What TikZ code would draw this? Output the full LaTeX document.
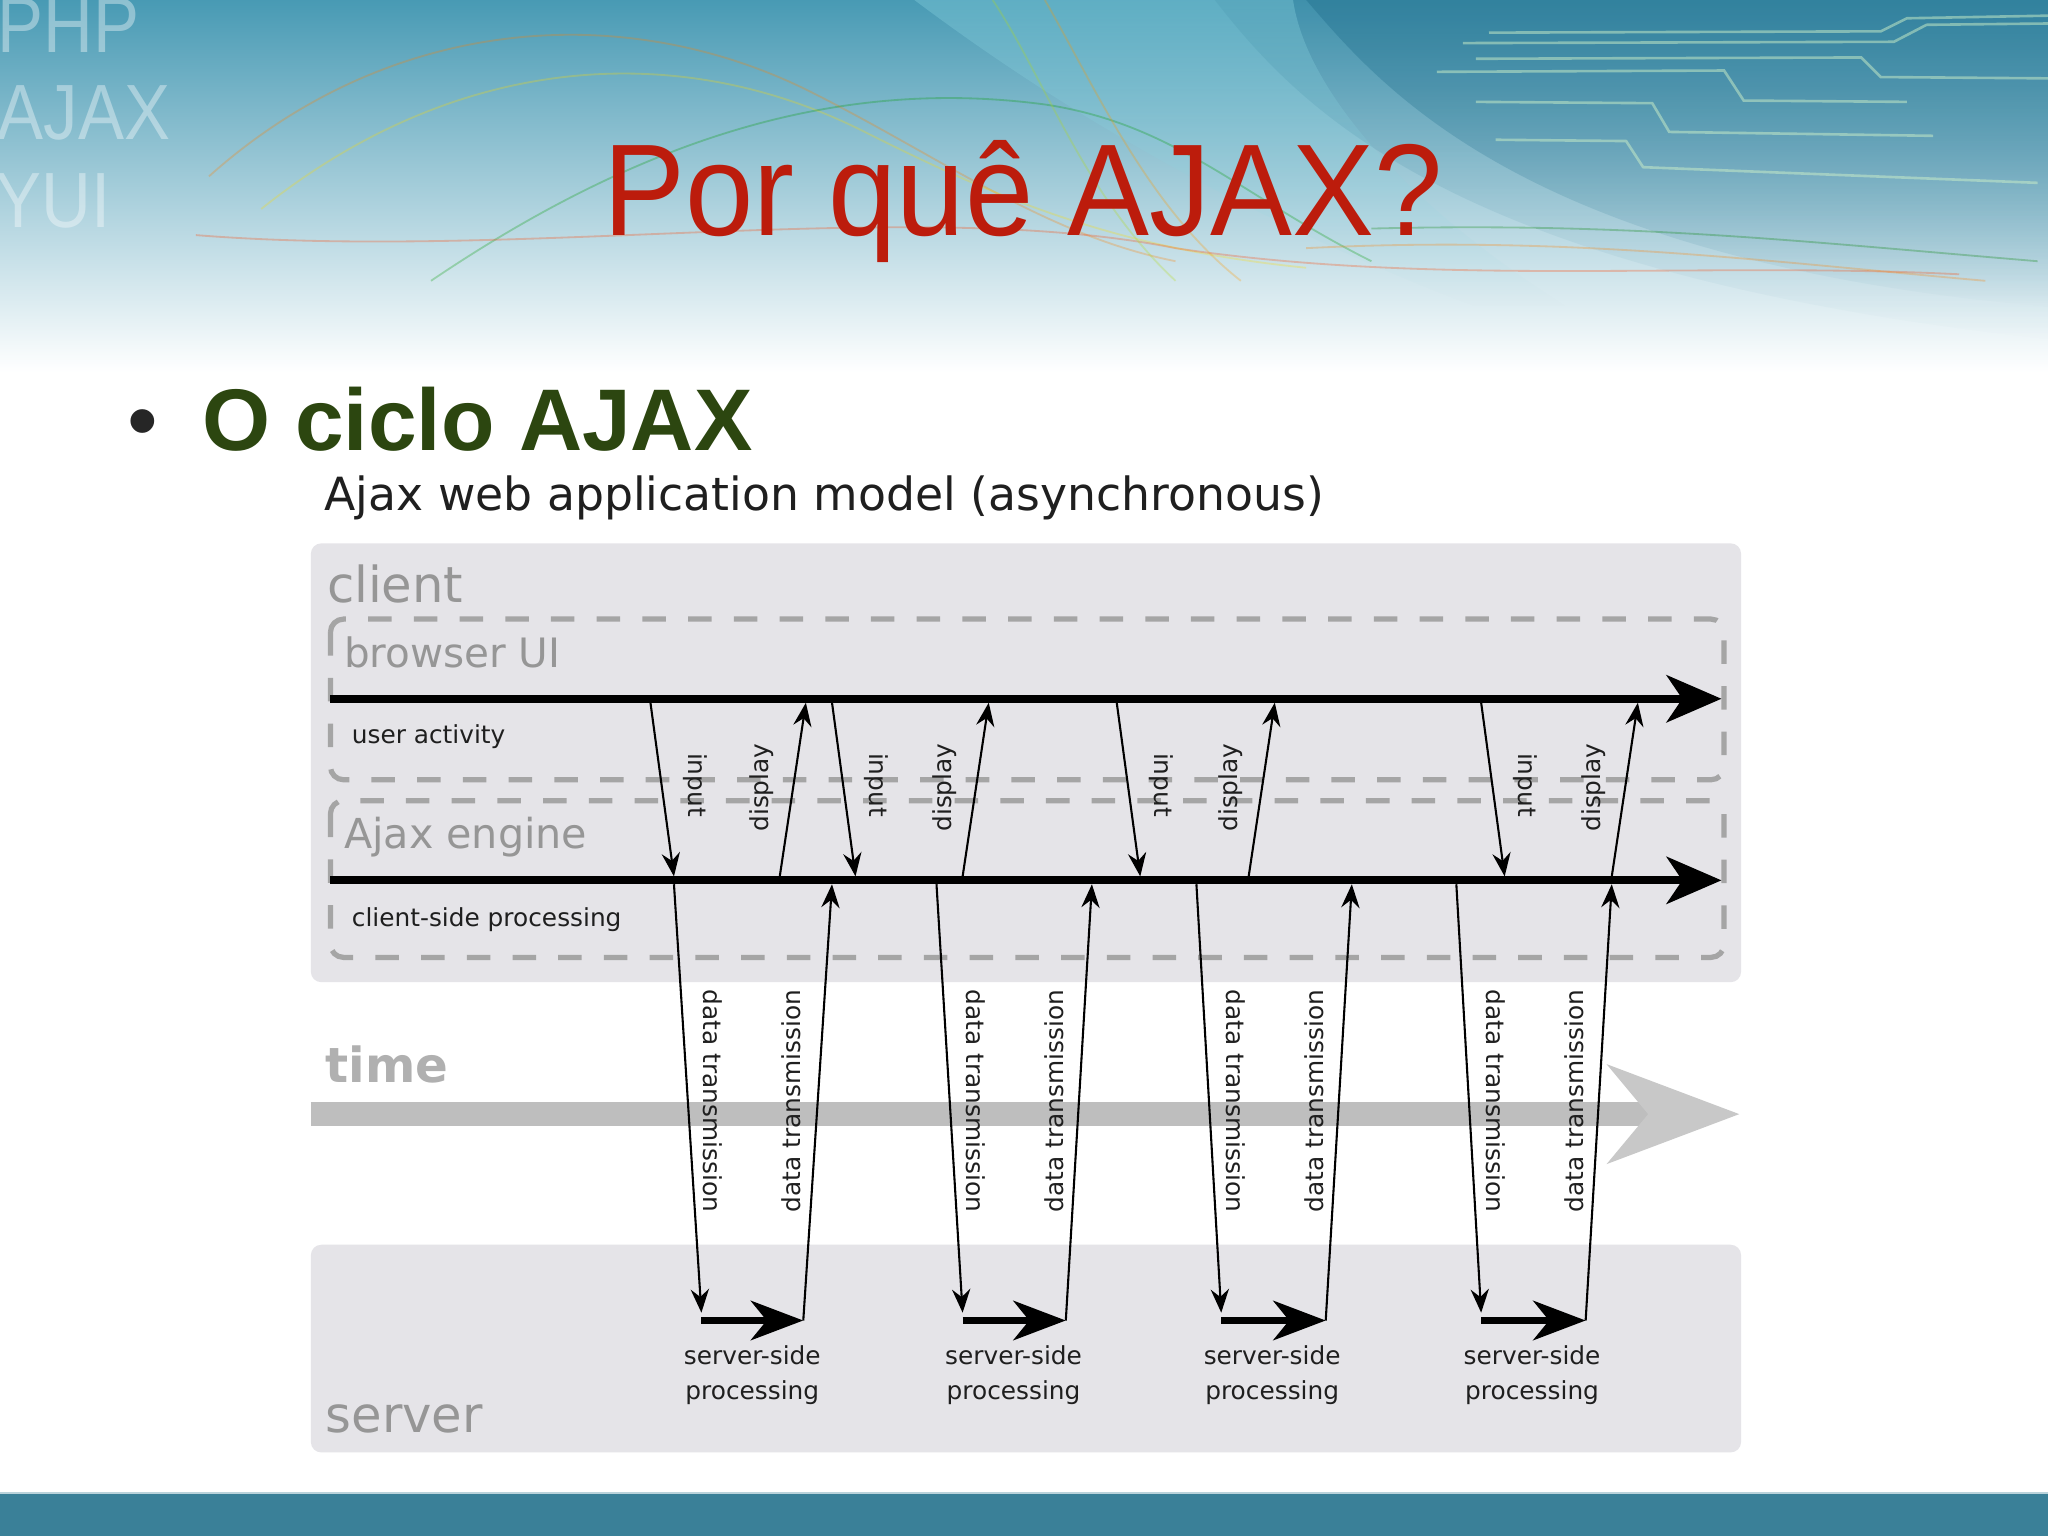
\documentclass[tikz,border=0pt]{standalone}
\usepackage{fontspec}
\setmainfont{Liberation Sans}
\newfontfamily\dv{DejaVu Sans}
\usetikzlibrary{arrows.meta,fadings}
\definecolor{titlered}{RGB}{188,28,12}
\definecolor{bulletgreen}{RGB}{44,70,16}
\definecolor{boxfill}{RGB}{229,228,232}
\definecolor{lblgray}{RGB}{150,150,150}
\definecolor{timelbl}{RGB}{176,176,176}
\definecolor{dashgray}{RGB}{165,165,165}
\definecolor{timegray}{RGB}{190,190,190}
\definecolor{timehead}{RGB}{200,200,200}
\definecolor{hdrtop}{RGB}{72,154,180}
\definecolor{hdrmid}{RGB}{172,218,228}
\definecolor{hdrdark}{RGB}{38,116,146}
\definecolor{hdrglow}{RGB}{140,214,226}
\definecolor{barblue}{RGB}{58,128,152}
\definecolor{circuit}{RGB}{205,240,200}
\tikzfading[name=fadedown, top color=transparent!0, bottom color=transparent!100]
\begin{document}
\begin{tikzpicture}[x=0.5pt,y=-0.5pt,
  thinarrow/.style={line width=0.8pt, -{Stealth[length=9pt,width=7pt,inset=3pt]}},
  thickarrow/.style={line width=3pt, -{Stealth[length=21pt,width=18pt,inset=6pt]}},
  srvarrow/.style={line width=3pt, -{Stealth[length=20pt,width=15pt,inset=6pt]}},
  dashbox/.style={draw=dashgray, line width=2pt, dash pattern=on 9pt off 8.5pt, rounded corners=5pt},
  graybox/.style={fill=boxfill, rounded corners=4pt},
  smalltxt/.style={font=\dv\fontsize{9.5}{13.5}\selectfont, text=black!88, inner sep=0pt},
  biglbl/.style={text=lblgray, inner sep=0pt, anchor=base west},
  deco/.style={line width=0.7pt, opacity=0.27},
  circ/.style={draw=circuit, line width=1pt, opacity=0.5},
  ghost/.style={text=white, text opacity=0.38, inner sep=0pt, anchor=base west, font=\fontsize{30}{36}\selectfont}
]
\useasboundingbox (0,0) rectangle (1568,1176);
% background
\fill[white] (0,0) rectangle (1568,1176);
\shade[top color=hdrtop, middle color=hdrmid, bottom color=white] (0,0) rectangle (1568,285);
\fill[hdrdark, path fading=fadedown, fill opacity=0.5]
  (1000,0) .. controls (1060,70) and (1170,200) .. (1568,235) -- (1568,0) -- cycle;
\fill[hdrdark, path fading=fadedown, fill opacity=0.25]
  (930,0) .. controls (1000,90) and (1120,210) .. (1568,260) -- (1568,0) -- cycle;
\fill[hdrglow, path fading=fadedown, fill opacity=0.35]
  (700,0) .. controls (820,90) and (960,170) .. (1130,235) -- (1200,235)
  .. controls (1080,160) and (1000,70) .. (990,0) -- cycle;
% decorative curves
\draw[deco, orange] (160,135) .. controls (300,10) and (480,0) .. (620,70) .. controls (720,120) and (800,180) .. (900,200);
\draw[deco, yellow!80!orange] (200,160) .. controls (350,40) and (520,30) .. (660,100) .. controls (760,150) and (850,190) .. (1000,205);
\draw[deco, green!60!black] (330,215) .. controls (500,100) and (650,60) .. (800,80) .. controls (900,95) and (950,150) .. (1050,200);
\draw[deco, red!50!orange] (150,180) .. controls (400,200) and (700,150) .. (900,190) .. controls (1100,220) and (1300,200) .. (1500,210);
\draw[deco, yellow!70!green] (760,0) .. controls (800,60) and (830,150) .. (900,215);
\draw[deco, orange!80!yellow] (800,0) .. controls (840,70) and (880,160) .. (950,215);
\draw[deco, orange] (1000,190) .. controls (1200,180) and (1350,200) .. (1520,215);
\draw[deco, green!50!black] (1050,175) .. controls (1250,170) and (1380,185) .. (1560,200);
% circuit lines
\draw[circ] (1140,25) -- (1440,24) -- (1460,14) -- (1568,12);
\draw[circ] (1120,33) -- (1450,32) -- (1475,19) -- (1568,18);
\draw[circ] (1130,45) -- (1425,44) -- (1440,59) -- (1568,60);
\draw[circ] (1100,55) -- (1320,54) -- (1335,77) -- (1460,78);
\draw[circ] (1130,78) -- (1265,79) -- (1278,101) -- (1480,104);
\draw[circ] (1145,107) -- (1245,108) -- (1258,128) -- (1560,140);
% ghost words
\node[ghost] (php) at (-2,40) {\scalebox{0.88}[1]{PHP}};
\node[ghost] (ajx) at (-2,107) {\scalebox{0.88}[1]{AJAX}};
\node[ghost] (yui) at (-4,174) {\scalebox{0.88}[1]{YUI}};
% bottom bar
\fill[barblue] (0,1143) rectangle (1568,1176);
\draw[line width=1pt, barblue!35!white] (0,1143) -- (1568,1143);
% title and bullet
\node[anchor=base, text=titlered, font=\fontsize{50}{60}\selectfont, inner sep=0pt] (title) at (783.5,180) {\scalebox{0.94}[1]{Por quê AJAX?}};
\node[anchor=base west, inner sep=0pt, font=\fontsize{33.5}{40}\selectfont, text=black!85] (bullet) at (97,345) {•};
\node[anchor=base west, inner sep=0pt, font=\fontsize{33.5}{40}\selectfont\bfseries, text=bulletgreen] (head) at (155,345) {O ciclo AJAX};
\node[anchor=base west, inner sep=0pt, font=\dv\fontsize{17.5}{21}\selectfont, text=black!88] (model) at (248,391) {Ajax web application model (asynchronous)};
% boxes
\fill[graybox] (238,416) rectangle (1333,752);
\fill[graybox] (238,953) rectangle (1333,1112);
\draw[dashbox] (253,474) rectangle (1320,597);
\draw[dashbox] (253,613) rectangle (1320,733);
% labels
\node[biglbl, font=\dv\fontsize{19}{23}\selectfont] (client) at (250,461) {client};
\node[biglbl, font=\dv\fontsize{15.5}{19}\selectfont] (bui) at (263,511) {browser UI};
\node[biglbl, font=\dv\fontsize{15.8}{19}\selectfont] (aeng) at (263,650) {Ajax engine};
\node[smalltxt, anchor=base west] (uact) at (269,569) {user activity};
\node[smalltxt, anchor=base west] (csp) at (269,709) {client-side processing};
\node[anchor=base west, inner sep=0pt, text=timelbl, font=\dv\bfseries\fontsize{18.5}{22}\selectfont] (time) at (249,829) {time};
\node[biglbl, font=\dv\fontsize{19}{23}\selectfont] (server) at (249,1097) {server};
% time arrow
\coordinate (t0) at (238,853);
\coordinate (t1) at (1332,853);
\draw[line width=9pt, timegray, -{Stealth[length=50pt,width=37pt,inset=15pt,color=timehead]}] (t0) -- (t1);
% thick time lines
\coordinate (ui0) at (253,535);
\coordinate (ui1) at (1318,535);
\coordinate (ae0) at (253,674);
\coordinate (ae1) at (1318,674);
\draw[thickarrow] (ui0) -- (ui1);
\draw[thickarrow] (ae0) -- (ae1);
% input / display arrows
\foreach \ua/\ub/\uc/\ud [count=\i] in {498/516/597/617, 637/655/737/757, 855/873/956/976, 1134/1152/1234/1254} {
  \coordinate (in\i s) at (\ua,538);
  \coordinate (in\i e) at (\ub,671);
  \coordinate (dp\i s) at (\uc,671);
  \coordinate (dp\i e) at (\ud,538);
  \draw[thinarrow] (in\i s) -- (in\i e);
  \draw[thinarrow] (dp\i s) -- (dp\i e);
  \node[smalltxt, rotate=-90] (inl\i) at (\ua+34,601) {input};
  \node[smalltxt, rotate=90] (dpl\i) at (\uc-14,603) {display};
}
% data transmission and server-side processing
\foreach \ua/\ub/\uc/\ud [count=\i] in {516/537/615/637, 717/737/816/836, 916/935/1015/1035, 1115/1134/1214/1234} {
  \coordinate (dd\i s) at (\ua,677);
  \coordinate (dd\i e) at (\ub,1005);
  \coordinate (sv\i s) at (\ub,1011);
  \coordinate (sv\i e) at (\uc,1011);
  \coordinate (du\i e) at (\ud,677);
  \draw[thinarrow] (dd\i s) -- (dd\i e);
  \draw[srvarrow] (sv\i s) -- (sv\i e);
  \draw[thinarrow] (sv\i e) -- (du\i e);
  \node[smalltxt, rotate=-90] (ddl\i) at (\ua+30,843) {data transmission};
  \node[smalltxt, rotate=90] (dul\i) at (\uc-9,843) {data transmission};
  \node[smalltxt, align=center] (ssp\i) at (\ub+39,1053) {server-side\\processing};
}
\end{tikzpicture}
\end{document}
